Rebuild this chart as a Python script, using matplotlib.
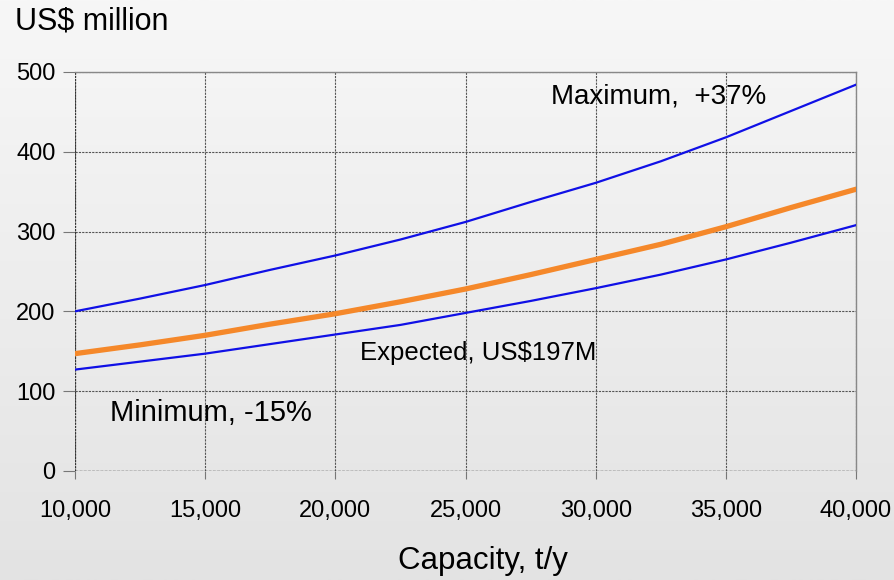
import numpy as np
import matplotlib.pyplot as plt
from matplotlib.colors import LinearSegmentedColormap
from matplotlib.ticker import FuncFormatter

plt.rcParams['font.family'] = ['Liberation Sans', 'DejaVu Sans']

# capital cost vs. plant capacity
capacity = [10000, 12500, 15000, 17500, 20000, 22500, 25000,
            27500, 30000, 32500, 35000, 37500, 40000]
cost_max = [200, 216, 233, 252, 270, 290, 312, 337, 361, 388, 418, 451, 484]
cost_exp = [147, 158, 170, 184, 197, 212, 228, 246, 265, 284, 306, 330, 353]
cost_min = [127, 137, 147, 159, 171, 183, 198, 213, 229, 246, 265, 286, 308]

x_ticks = [10000, 15000, 20000, 25000, 30000, 35000, 40000]
y_ticks = [0, 100, 200, 300, 400, 500]

fig = plt.figure(figsize=(8.94, 5.8), dpi=100)

# soft grey gradient behind everything
bg = fig.add_axes([0, 0, 1, 1], zorder=-10)
grey_cmap = LinearSegmentedColormap.from_list('bg', ['#f7f7f7', '#e3e3e3'])
grad = np.linspace(0, 1, 256).reshape(-1, 1)
bg.imshow(grad, aspect='auto', cmap=grey_cmap, extent=[0, 1, 0, 1],
          origin='upper')
bg.axis('off')

ax = fig.add_axes([0.0839, 0.188, 0.8736, 0.688])
ax.set_facecolor('none')

ax.plot(capacity, cost_max, color='#1010e6', lw=1.6, zorder=3)
ax.plot(capacity, cost_min, color='#1010e6', lw=1.6, zorder=3)
ax.plot(capacity, cost_exp, color='#f5882a', lw=3.8, zorder=4,
        solid_capstyle='round')

ax.set_xlim(10000, 40000)
ax.set_ylim(0, 500)
ax.set_xticks(x_ticks)
ax.set_yticks(y_ticks)
ax.xaxis.set_major_formatter(FuncFormatter(lambda v, p: f'{int(v):,}'))

ax.grid(True, color='#555555', lw=0.8, linestyle=(0, (2, 1)))
ax.axhline(0, color='#333333', lw=1.0, linestyle=(0, (2, 1)), zorder=2)
ax.axvline(10000, color='#333333', lw=0.9, linestyle=(0, (1.5, 1)), zorder=2)
for side in ['left', 'bottom']:
    ax.spines[side].set_visible(False)
for side in ['top', 'right']:
    ax.spines[side].set_color('#888888')
    ax.spines[side].set_linewidth(1.0)

ax.tick_params(axis='y', length=9, color='#777777', labelsize=17, pad=5)
ax.tick_params(axis='x', length=6, color='#777777', labelsize=17, pad=15)

fig.text(483 / 894, 1 - 561 / 580, 'Capacity, t/y', fontsize=22.5,
         ha='center', va='center')
fig.text(0.017, 0.963, 'US$ million', fontsize=22, va='center', ha='left')

ax.text(32400, 469, 'Maximum,  +37%', fontsize=20, ha='center', va='center')
ax.text(25500, 148, 'Expected, US$197M', fontsize=18.5, ha='center', va='center')
ax.text(15230, 73, 'Minimum, -15%', fontsize=21, ha='center', va='center')

fig.savefig('out.png', dpi=100)
